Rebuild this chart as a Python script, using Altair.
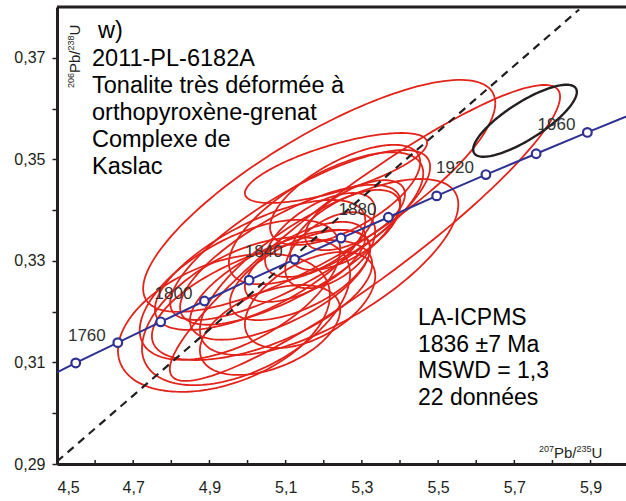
import altair as alt
import pandas as pd
import numpy as np

# ---------------- data ----------------
# Concordia (age in Ma, 207Pb/235U, 206Pb/238U)
conc_age = [1720, 1740, 1760, 1780, 1800, 1820, 1840, 1860, 1880, 1900, 1920, 1940, 1960, 1980]
conc_x = [4.4409, 4.5491, 4.6595, 4.7721, 4.8869, 5.0040, 5.1235, 5.2453, 5.3695, 5.4962, 5.6254, 5.7572, 5.8916, 6.0287]
conc_y = [0.3058, 0.3099, 0.3139, 0.3180, 0.3221, 0.3262, 0.3303, 0.3345, 0.3386, 0.3428, 0.3470, 0.3511, 0.3553, 0.3595]
marker_ages = [1740, 1760, 1780, 1800, 1820, 1840, 1860, 1880, 1900, 1920, 1940, 1960]
label_ages = [1760, 1800, 1840, 1880, 1920, 1960]

# Red error ellipses: centre x, centre y, half-width x, half-height y, correlation
ell_x = [5.188, 5.308, 5.214, 5.232, 5.206, 4.938, 4.996, 5.038, 5.085, 5.138, 5.151,
         5.217, 5.190, 5.256, 5.282, 5.112, 5.033, 4.980, 5.138, 5.256, 5.164, 5.059]
ell_y = [0.3428, 0.3355, 0.3288, 0.3483, 0.3384, 0.3178, 0.3201, 0.3223, 0.3253, 0.3272, 0.3298,
         0.3321, 0.3351, 0.3361, 0.3390, 0.3312, 0.3292, 0.3243, 0.3351, 0.3430, 0.3223, 0.3164]
ell_sx = [0.462, 0.512, 0.339, 0.239, 0.255, 0.278, 0.273, 0.289, 0.236, 0.184, 0.158,
          0.118, 0.144, 0.144, 0.131, 0.289, 0.276, 0.263, 0.341, 0.197, 0.171, 0.184]
ell_sy = [0.02284, 0.02915, 0.01733, 0.00689, 0.01300, 0.01359, 0.01457, 0.01182, 0.01083, 0.00886, 0.00788,
          0.00748, 0.00827, 0.00788, 0.00689, 0.01378, 0.01280, 0.01378, 0.01674, 0.00985, 0.00945, 0.00886]
ell_rho = [0.80, 0.92, 0.71, 0.72, 0.68, 0.40, 0.50, 0.60, 0.65, 0.60, 0.62,
           0.50, 0.60, 0.60, 0.60, 0.75, 0.68, 0.58, 0.80, 0.65, 0.50, 0.45]

# Excluded (black) ellipse
blk_x, blk_y, blk_sx, blk_sy, blk_rho = [5.728], [0.3576], [0.136], [0.00709], [0.80]

# Dashed reference line
dash_x = [4.50, 5.87]
dash_y = [0.2905, 0.3795]

# Axis ticks
x_ticks = [4.5, 4.6, 4.7, 4.8, 4.9, 5.0, 5.1, 5.2, 5.3, 5.4, 5.5, 5.6, 5.7, 5.8, 5.9]
x_labels = [4.5, 4.7, 4.9, 5.1, 5.3, 5.5, 5.7, 5.9]
y_ticks = [0.29, 0.30, 0.31, 0.32, 0.33, 0.34, 0.35, 0.36, 0.37]

title_lines = ["w)", "2011-PL-6182A", "Tonalite très déformée à",
               "orthopyroxène-grenat", "Complexe de", "Kaslac"]
result_lines = ["LA-ICPMS", "1836 ±7 Ma", "MSWD = 1,3", "22 données"]
# axis titles as (text, is_superscript) pieces
y_title_parts = [("206", True), ("Pb/", False), ("238", True), ("U", False)]
x_title_parts = [("207", True), ("Pb/", False), ("235", True), ("U", False)]

# ---------------- build tables ----------------
XD = [4.5, 5.993]
YD = [0.29, 0.38]
W, H = 569, 457
FONT = "Liberation Sans"
RED = "#e2231a"
NAVY = "#2e3192"
INK = "#231f20"

t = np.linspace(0, 2 * np.pi, 161)


def ellipse_rows(xs, ys, sxs, sys_, rhos, prefix):
    rows = []
    for i, (cx, cy, sx, sy, r) in enumerate(zip(xs, ys, sxs, sys_, rhos)):
        ex = cx + sx * np.cos(t)
        ey = cy + sy * (r * np.cos(t) + np.sqrt(1 - r * r) * np.sin(t))
        for k in range(len(t)):
            rows.append({"id": f"{prefix}{i}", "k": k, "x": ex[k], "y": ey[k]})
    return pd.DataFrame(rows)


red_df = ellipse_rows(ell_x, ell_y, ell_sx, ell_sy, ell_rho, "r")
blk_df = ellipse_rows(blk_x, blk_y, blk_sx, blk_sy, blk_rho, "b")
conc_df = pd.DataFrame({"age": conc_age, "x": conc_x, "y": conc_y})
mark_df = conc_df[conc_df.age.isin(marker_ages)]
lab_df = conc_df[conc_df.age.isin(label_ages)].assign(lab=lambda d: d.age.astype(str))
dash_df = pd.DataFrame({"x": dash_x, "y": dash_y, "k": [0, 1]})
xt_df = pd.DataFrame({"x": x_ticks, "y": [0.29] * len(x_ticks), "y2": [0.29 + 4 / 5078] * len(x_ticks)})

xs = alt.Scale(domain=XD, nice=False, zero=False)
ys = alt.Scale(domain=YD, nice=False, zero=False)

x_axis = alt.Axis(values=x_labels, tickSize=0, labelPadding=15, labelFontSize=16,
                  labelFont=FONT, labelColor=INK, domainWidth=3, domainColor=INK,
                  grid=False, title=None,
                  labelExpr="replace(format(datum.value, '.1f'), '.', ',')")
y_axis = alt.Axis(values=y_ticks, tickSize=5, tickWidth=1.5, tickColor=INK, labelPadding=7,
                  labelFontSize=16, labelFont=FONT, labelColor=INK, domainWidth=3,
                  domainColor=INK, grid=False, title=None,
                  labelExpr="round(datum.value*100) % 2 == 1 ? replace(format(datum.value, '.2f'), '.', ',') : ''")

X = alt.X("x:Q", scale=xs, axis=x_axis)
Y = alt.Y("y:Q", scale=ys, axis=y_axis)

red_layer = alt.Chart(red_df).mark_line(color=RED, strokeWidth=1.8, clip=True).encode(
    x=X, y=Y, detail="id:N", order="k:Q")
blk_layer = alt.Chart(blk_df).mark_line(color=INK, strokeWidth=2.4, clip=True).encode(
    x="x:Q", y="y:Q", detail="id:N", order="k:Q")
dash_layer = alt.Chart(dash_df).mark_line(color=INK, strokeWidth=2.2, strokeDash=[8, 6], clip=True).encode(
    x="x:Q", y="y:Q", order="k:Q")
conc_layer = alt.Chart(conc_df).mark_line(color=NAVY, strokeWidth=2, clip=True).encode(
    x="x:Q", y="y:Q", order="age:Q")
mark_layer = alt.Chart(mark_df).mark_point(shape="circle", size=75, filled=True, fill="white",
                                            stroke=NAVY, strokeWidth=2.2, opacity=1).encode(
    x="x:Q", y="y:Q")
lab_layer = alt.Chart(lab_df).mark_text(align="right", baseline="middle", dx=-12, dy=-7,
                                         font=FONT, fontSize=17, color="#333333").encode(
    x="x:Q", y="y:Q", text="lab:N")
xtick_layer = alt.Chart(xt_df).mark_rule(color=INK, strokeWidth=1.5).encode(
    x="x:Q", y="y:Q", y2="y2:Q")
top_frame = alt.Chart(pd.DataFrame({"a": [0]})).mark_rule(color=INK, strokeWidth=3).encode(
    x=alt.value(0), x2=alt.value(W), y=alt.value(0))


def text_layer(s, x, y, size, align="left", angle=None, color="black"):
    kw = dict(align=align, baseline="alphabetic", font=FONT, fontSize=size, color=color)
    if angle is not None:
        kw["angle"] = angle
    return alt.Chart(pd.DataFrame({"txt": [s]})).mark_text(**kw).encode(
        x=alt.value(x), y=alt.value(y), text="txt:N")


title_layers = [text_layer(s, 41 if i == 0 else 35, 31 if i == 0 else 32 + 27 * i, 23.5)
                for i, s in enumerate(title_lines)]
result_layers = [text_layer(s, 361, 318 + 26.5 * i, 23) for i, s in enumerate(result_lines)]


def char_w(s, size):
    w = {"P": 0.667, "b": 0.556, "/": 0.278, "U": 0.722}
    return sum(w.get(c, 0.556) for c in s) * size


SUP, MAIN = 9, 15
# y-axis title, rotated (reads bottom to top)
ytitle_layers = []
pos = 81
for s, sup in y_title_parts:
    size = SUP if sup else MAIN
    ytitle_layers.append(text_layer(s, 17 if sup else 23, pos, size, angle=270, color=INK))
    pos -= char_w(s, size)
# x-axis title
xtitle_layers = []
pos = 482
for s, sup in x_title_parts:
    size = SUP if sup else MAIN
    xtitle_layers.append(text_layer(s, pos, 445 if sup else 451, size, color=INK))
    pos += char_w(s, size)

chart = alt.layer(
    red_layer, blk_layer, dash_layer, conc_layer, mark_layer, lab_layer, xtick_layer, top_frame,
    *title_layers, *result_layers, *ytitle_layers, *xtitle_layers
).properties(
    width=W, height=H,
    autosize=alt.AutoSizeParams(type="none"),
    padding={"left": 57, "top": 7, "right": 0, "bottom": 37},
).configure_view(stroke=None).configure(background="white")

chart.save("out.html", embed_options={"renderer": "svg", "actions": False})
